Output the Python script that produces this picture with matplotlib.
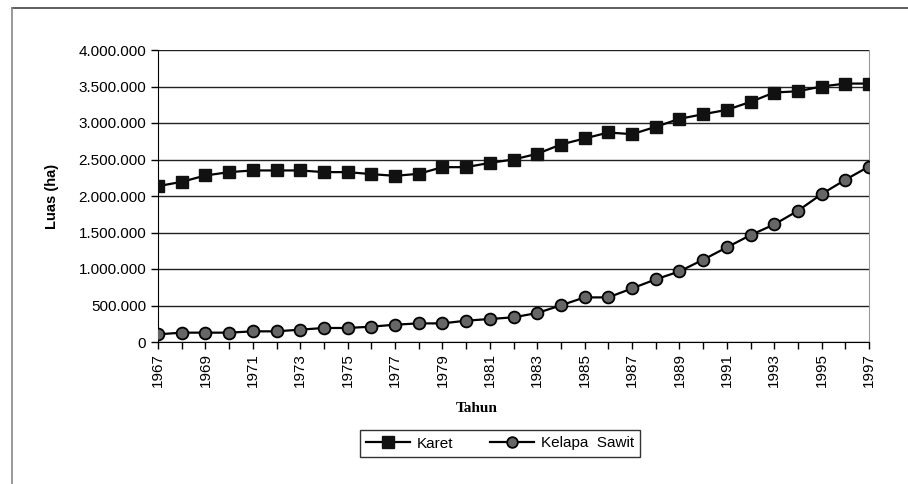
import matplotlib
matplotlib.use("Agg")
import matplotlib.pyplot as plt
from matplotlib.ticker import FuncFormatter, MultipleLocator
from matplotlib.lines import Line2D

years = list(range(1967, 1998))
karet = [2135000, 2194000, 2281000, 2327000, 2350000, 2350000, 2350000, 2327000,
         2327000, 2300000, 2276000, 2304000, 2395000, 2395000, 2454000, 2500000,
         2578000, 2705000, 2788000, 2870000, 2847000, 2947000, 3057000, 3120000,
         3180000, 3289000, 3417000, 3435000, 3500000, 3540000, 3540000]
sawit = [105000, 128000, 128000, 128000, 146000, 146000, 169000, 192000,
         192000, 210000, 237000, 255000, 255000, 292000, 315000, 338000,
         397000, 502000, 611000, 611000, 734000, 858000, 967000, 1127000,
         1296000, 1464000, 1610000, 1797000, 2026000, 2222000, 2404000]
xtick_labels = [str(y) for y in range(1967, 1998, 2)]

plt.rcParams['font.family'] = ['Liberation Sans', 'DejaVu Sans']

W, H = 908, 484
fig = plt.figure(figsize=(W / 100, H / 100), dpi=100)
ax = fig.add_axes([158 / W, 1 - 342 / H, (869 - 158) / W, (342 - 50) / H])

ax.plot(years, karet, color='black', lw=1.6, marker='s', ms=9,
        mfc='#111111', mec='#111111', label='Karet', zorder=4)
ax.plot(years, sawit, color='black', lw=1.6, marker='o', ms=8.5,
        mfc='#666666', mec='black', mew=1.3, label='Kelapa  Sawit', zorder=4)

ax.set_xlim(1967, 1997)
ax.set_ylim(0, 4000000)
ax.yaxis.set_major_locator(MultipleLocator(500000))
ax.yaxis.set_major_formatter(FuncFormatter(lambda v, p: f"{int(v):,}".replace(",", ".")))
ax.set_xticks(range(1967, 1998))
ax.set_xticklabels([y if y in xtick_labels else '' for y in map(str, years)],
                   rotation=90)
ax.grid(axis='y', color='#222222', lw=1)
ax.set_axisbelow(True)
ax.tick_params(axis='both', direction='out', length=5, width=1, colors='black',
               labelsize=11)
ax.tick_params(axis='x', pad=3)
ax.spines['top'].set_visible(False)
ax.spines['right'].set_color('#999999')
ax.spines['left'].set_color('black')
ax.spines['bottom'].set_color('black')

ax.set_ylabel('Luas (ha)', fontsize=10.5, fontweight='bold')
ax.yaxis.set_label_coords((59 - 158) / 711, 0.5)
fig.text(477 / W, 1 - 408 / H, 'Tahun', ha='center', va='center',
         fontsize=11, fontweight='bold', family=['Liberation Serif', 'DejaVu Serif'])

leg = fig.legend(loc='center', bbox_to_anchor=(500 / W, 1 - 443.5 / H), ncol=2,
                 frameon=True, fancybox=False, fontsize=11, handlelength=2.9,
                 columnspacing=2.4, handletextpad=0.45, borderpad=0.4,
                 markerscale=0.9)
leg.get_frame().set_edgecolor('black')
leg.get_frame().set_linewidth(1)

# outer border (top and left visible)
fig.add_artist(Line2D([12 / W, 1], [1 - 8 / H, 1 - 8 / H], color='#444444', lw=1.2,
                      transform=fig.transFigure))
fig.add_artist(Line2D([12 / W, 12 / W], [1 - 8 / H, 0], color='#888888', lw=1.2,
                      transform=fig.transFigure))

fig.savefig('out.png', dpi=100)
